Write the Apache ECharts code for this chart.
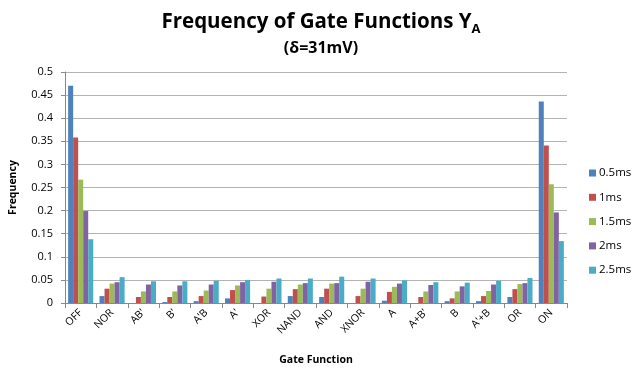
<!DOCTYPE html>
<html><head><meta charset="utf-8">
<script src="https://cdn.jsdelivr.net/npm/echarts@6/dist/echarts.min.js"></script>
<style>html,body{margin:0;padding:0;background:#fff}#c{width:633px;height:371px}</style>
</head><body><div id="c"></div>
<script>
const categories = ["OFF","NOR","AB'","B'","A'B","A'","XOR","NAND","AND","XNOR","A","A+B'","B","A'+B","OR","ON"];
const seriesNames = ["0.5ms","1ms","1.5ms","2ms","2.5ms"];
const s05 = [0.470,0.015,0,0.002,0.004,0.010,0,0.015,0.013,0,0.005,0,0.004,0.004,0.013,0.436];
const s1  = [0.358,0.031,0.013,0.013,0.015,0.028,0.014,0.030,0.031,0.015,0.024,0.013,0.010,0.015,0.030,0.341];
const s15 = [0.267,0.042,0.025,0.025,0.027,0.038,0.031,0.040,0.042,0.031,0.035,0.025,0.025,0.026,0.041,0.257];
const s2  = [0.199,0.045,0.040,0.038,0.040,0.045,0.046,0.043,0.043,0.046,0.042,0.039,0.036,0.040,0.043,0.196];
const s25 = [0.138,0.056,0.047,0.047,0.048,0.050,0.053,0.053,0.057,0.053,0.049,0.045,0.044,0.048,0.054,0.134];
const yTicks = [0,0.05,0.1,0.15,0.2,0.25,0.3,0.35,0.4,0.45,0.5];
const colors = ["#4F81BD","#C0504D","#9BBB59","#8064A2","#4BACC6"];
const values = [s05,s1,s15,s2,s25];
const font = "'Open Sans', 'Liberation Sans', sans-serif";
const chart = echarts.init(document.getElementById('c'));
chart.setOption({
  animation:false,
  textStyle:{fontFamily:font},
  title:{
    text:'{t|Frequency of Gate Functions Y}{s|A}\n{sub|(δ=31mV)}',
    left:316, top:3, textAlign:'center',
    textStyle:{rich:{
      t:{fontSize:20.5,fontWeight:'bold',fontFamily:font,color:'#000',lineHeight:28},
      s:{fontSize:13,fontWeight:'bold',fontFamily:font,color:'#000',verticalAlign:'bottom',padding:[10,0,0,0],lineHeight:28},
      sub:{fontSize:16,fontWeight:'bold',fontFamily:font,color:'#000',lineHeight:24,align:'center'}
    }}
  },
  legend:{
    orient:'vertical', left:589, top:167, padding:0, itemWidth:7, itemHeight:7, itemGap:12.3,
    icon:'rect', textStyle:{fontSize:11.5,lineHeight:12,fontFamily:font,color:'#000',padding:[0,0,0,-2]},
    data:seriesNames
  },
  grid:{left:63,right:66,top:72,bottom:68},
  xAxis:{
    type:'category', data:categories,
    name:'Gate Function', nameLocation:'middle', nameGap:52,
    nameTextStyle:{fontSize:10.5,fontWeight:'bold',color:'#000',fontFamily:font},
    axisLine:{lineStyle:{color:'#888'}},
    axisTick:{show:true,length:5,lineStyle:{color:'#888'}},
    axisLabel:{rotate:45,fontSize:10.5,color:'#000',margin:8,fontFamily:font}
  },
  yAxis:{
    type:'value', min:0, max:0.5, interval:0.05,
    name:'Frequency', nameLocation:'middle', nameGap:46, nameRotate:90,
    nameTextStyle:{fontSize:10.5,fontWeight:'bold',color:'#000',fontFamily:font},
    axisLine:{show:true,lineStyle:{color:'#888'}},
    axisTick:{show:true,length:4,lineStyle:{color:'#888'}},
    axisLabel:{fontSize:11,color:'#000',margin:12,fontFamily:font,
      formatter:v=>{const t=yTicks.find(x=>Math.abs(x-v)<1e-9);return t===undefined?'':String(t);}},
    splitLine:{lineStyle:{color:'#b3b3b3',width:1}}
  },
  series: seriesNames.map((n,i)=>({
    name:n, type:'bar', data:values[i], barGap:'0%', barCategoryGap:'20%',
    itemStyle:{color:colors[i]}
  }))
});
</script></body></html>
